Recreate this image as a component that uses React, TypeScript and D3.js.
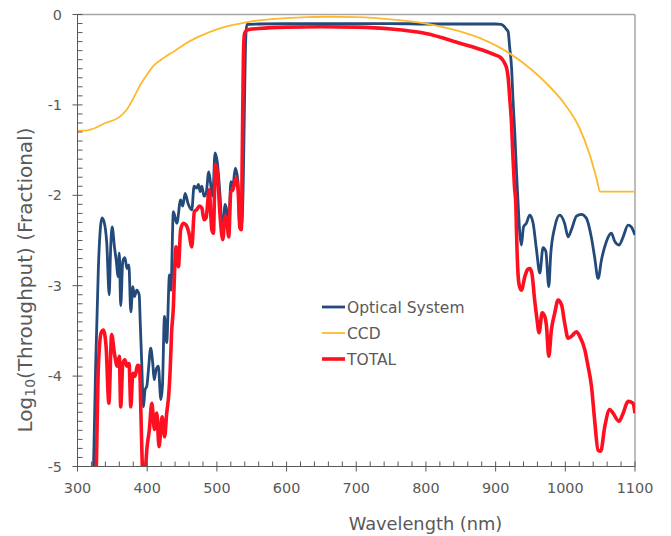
import React from "react";
import * as d3 from "d3";

const xTicks = [300, 400, 500, 600, 700, 800, 900, 1000, 1100];
const yTicks = [0, -1, -2, -3, -4, -5];
const seriesNames = ["Optical System", "CCD", "TOTAL"];

const opticalSystem: [number, number][] = [
  [320, -5.6], [323, -5.0], [326, -3.9], [330, -2.79], [333, -2.35], [335, -2.25], [338, -2.29], [342, -2.53],
  [345.5, -3.1], [347.5, -2.6], [349.7, -2.35], [353, -2.57], [356, -2.75], [358, -2.9], [360, -2.64], [362, -3.22],
  [365, -2.73], [368, -2.69], [371, -2.81], [373.7, -2.77], [376.5, -3.29], [379.4, -3.01], [381.7, -3.12],
  [385, -3.05], [388.5, -3.1], [390, -3.4], [392, -3.82], [394.6, -4.34], [397, -4.15], [399.5, -4.11],
  [401.8, -3.93], [405, -3.69], [408, -3.86], [410, -4.04], [412.8, -3.93], [416, -3.89], [419.6, -4.26],
  [421.9, -4.11], [424.8, -3.34], [428, -3.63], [432, -2.88], [434, -3.05], [437.6, -2.18], [442.5, -2.31],
  [448, -2.05], [451, -2.12], [454.4, -1.98], [459, -2.1], [464, -2.16], [467.3, -1.9], [471, -1.92],
  [473.5, -1.88], [476, -1.96], [478.4, -1.9], [481.6, -2.01], [484.5, -1.98], [488.4, -1.74], [491, -1.87],
  [494, -2.01], [497.4, -1.53], [500.7, -1.64], [504.6, -2.01], [508, -2.42], [511.8, -2.1], [514, -2.16],
  [517, -2.42], [520, -1.85], [522.8, -1.9], [526.5, -1.7], [530, -1.83], [533, -2.35], [536, -2.3],
  [538, -1.8], [540, -0.8], [541.5, -0.25], [543, -0.11], [560, -0.105], [600, -0.1], [650, -0.1],
  [700, -0.1], [750, -0.1], [800, -0.105], [850, -0.105], [900, -0.105], [908, -0.11], [912, -0.13],
  [915, -0.16], [918, -0.19], [920, -0.35], [922.8, -0.58], [925, -0.95], [927.5, -1.31], [930, -1.75],
  [932, -2.05], [934.7, -2.42], [937, -2.55], [940, -2.35], [944, -2.31], [949, -2.22], [953.8, -2.31],
  [958.6, -2.6], [963.4, -2.86], [968, -2.58], [972, -2.62], [976.3, -3.01], [979, -2.66], [984.9, -2.35],
  [992, -2.22], [999, -2.31], [1004, -2.46], [1008.8, -2.38], [1016, -2.23], [1023, -2.21], [1030, -2.25],
  [1037.5, -2.47], [1042, -2.68], [1047, -2.92], [1052, -2.71], [1059, -2.51], [1066, -2.42], [1071, -2.51],
  [1077, -2.55], [1083, -2.46], [1090, -2.33], [1094.8, -2.35], [1100, -2.44],
];

const ccd: [number, number][] = [
  [300, -1.285], [310, -1.285], [320, -1.27], [340, -1.2], [360, -1.135], [370, -1.06], [380, -0.93],
  [390, -0.78], [400, -0.66], [410, -0.56], [420, -0.5], [440, -0.4], [460, -0.3], [480, -0.225],
  [500, -0.165], [520, -0.12], [540, -0.09], [560, -0.065], [580, -0.05], [600, -0.04], [630, -0.03],
  [660, -0.025], [700, -0.03], [750, -0.055], [800, -0.1], [850, -0.19], [880, -0.27], [920, -0.43],
  [950, -0.6], [970, -0.74], [1000, -1.0], [1020, -1.25], [1035, -1.55], [1045, -1.82], [1050, -1.96],
  [1100, -1.96],
];

const total: [number, number][] = [
  [325, -5.6], [327, -5.0], [330, -3.89], [334, -3.52], [337, -3.49], [341, -3.67], [345, -4.3], [349, -3.54],
  [353, -3.75], [357, -3.89], [360, -3.78], [362, -4.34], [365, -3.86], [368, -3.82], [371, -3.89], [374, -3.86],
  [376.5, -4.34], [379.4, -3.97], [382.7, -4.0], [386, -3.88], [389, -3.89], [391, -4.41], [393, -5.0],
  [395, -5.3], [397, -5.1], [399.5, -4.81], [403, -4.6], [406.7, -4.3], [410.4, -4.59], [413.8, -4.41],
  [417, -4.78], [421.4, -4.45], [425, -4.67], [428, -4.41], [431, -4.2], [433, -3.93], [435, -3.52],
  [437.6, -3.23], [439.5, -2.8], [441.5, -2.57], [444.8, -2.79], [448, -2.38], [452, -2.31], [456, -2.33],
  [460, -2.42], [464, -2.57], [467.7, -2.18], [471, -2.16], [475, -2.12], [478.4, -2.14], [481.6, -2.27],
  [484.5, -2.25], [489, -1.94], [492.7, -2.38], [495, -2.42], [497.8, -1.66], [500.7, -1.75], [504.6, -2.23],
  [508.5, -2.49], [511.8, -2.23], [514, -2.25], [517, -2.46], [520, -1.96], [522.8, -1.94], [527.5, -1.81],
  [530.4, -1.94], [533, -2.36], [535, -2.38], [536.5, -1.5], [538, -0.5], [539.5, -0.22], [542, -0.18],
  [546, -0.165], [560, -0.155], [600, -0.14], [650, -0.135], [700, -0.14], [750, -0.16], [800, -0.21],
  [850, -0.32], [880, -0.39], [900, -0.45], [906, -0.47], [910, -0.5], [913, -0.54], [916, -0.6], [918, -0.7],
  [920.4, -0.94], [922.8, -1.2], [925, -1.6], [927, -1.9], [929, -2.1], [930, -2.42], [932, -2.85], [934, -3.0],
  [937, -3.05], [941.9, -2.9], [946, -2.82], [949, -2.81], [952, -2.86], [956, -3.16], [959, -3.35],
  [962.4, -3.52], [966.7, -3.3], [970.5, -3.34], [973, -3.45], [976.3, -3.78], [980, -3.49], [984.9, -3.3],
  [989.6, -3.16], [994.5, -3.21], [999, -3.41], [1004, -3.58], [1008.8, -3.56], [1016, -3.51], [1020.7, -3.56],
  [1028, -3.71], [1032.6, -3.89], [1037.5, -4.11], [1042, -4.48], [1047, -4.82], [1050.8, -4.83],
  [1056.6, -4.56], [1063.7, -4.37], [1068.5, -4.41], [1077, -4.5], [1083, -4.41], [1090, -4.28],
  [1097, -4.3], [1100, -4.41],
];

const W = 671;
const H = 536;
const L = 77.5, R = 635, T = 14.5, B = 466.5;
const FONT = "'DejaVu Sans', Verdana, sans-serif";
const TXT = "#595959";
const AXIS = "#595959";
const BORDER = "#a6a6a6";
const COLORS = ["#24497b", "#fdba2f", "#ff1020"];
const WIDTHS = [2.8, 1.8, 3.6];

export default function App() {
  const x = d3.scaleLinear().domain([300, 1100]).range([L, R]);
  const y = d3.scaleLinear().domain([-5, 0]).range([B, T]);
  const line = d3
    .line<[number, number]>()
    .x((d) => x(d[0]))
    .y((d) => y(d[1]))
    .curve(d3.curveMonotoneX);

  const xMinor = d3.range(300, 1101, 20).filter((v) => v % 100 !== 0);
  const yMinor = d3.range(-50, 1, 1).map((v) => v / 10).filter((v) => Math.abs(v - Math.round(v)) > 1e-6);
  const series = [opticalSystem, ccd, total];
  const legendY = [307, 333, 359];

  return (
    <div style={{ position: "absolute", left: 0, top: 0 }}>
      <svg width={W} height={H} style={{ display: "block", background: "#fff" }}>
        <defs>
          <clipPath id="plotclip">
            <rect x={L} y={T} width={R - L} height={B - T} />
          </clipPath>
        </defs>
        <line x1={L} x2={R} y1={T} y2={T} stroke={BORDER} strokeWidth={1.5} />
        <line x1={R} x2={R} y1={T} y2={B} stroke={BORDER} strokeWidth={1.5} />
        <g clipPath="url(#plotclip)">
          {series.map((s, i) => (
            <path key={i} d={line(s) || ""} fill="none" stroke={COLORS[i]} strokeWidth={WIDTHS[i]} strokeLinejoin="round" />
          ))}
        </g>
        <line x1={L} x2={L} y1={T} y2={B} stroke={AXIS} strokeWidth={1} />
        <line x1={L} x2={R} y1={B} y2={B} stroke={AXIS} strokeWidth={1} />
        {xMinor.map((v) => (
          <line key={"xm" + v} x1={x(v)} x2={x(v)} y1={B - 5} y2={B} stroke={AXIS} strokeWidth={1} />
        ))}
        {xTicks.map((v) => (
          <g key={"x" + v}>
            <line x1={x(v)} x2={x(v)} y1={B - 5} y2={B + 5} stroke={AXIS} strokeWidth={1} />
            <text x={x(v)} y={493} textAnchor="middle" fontFamily={FONT} fontSize={14.4} fill={TXT}>
              {v}
            </text>
          </g>
        ))}
        {yMinor.map((v) => (
          <line key={"ym" + v} x1={L} x2={L + 5} y1={y(v)} y2={y(v)} stroke={AXIS} strokeWidth={1} />
        ))}
        {yTicks.map((v) => (
          <g key={"y" + v}>
            <line x1={L - 5} x2={L + 5} y1={y(v)} y2={y(v)} stroke={AXIS} strokeWidth={1} />
            <text x={62} y={y(v)} dy="0.36em" textAnchor="end" fontFamily={FONT} fontSize={14.4} fill={TXT}>
              {v}
            </text>
          </g>
        ))}
        <text x={425.5} y={530} textAnchor="middle" fontFamily={FONT} fontSize={17.8} fill={TXT}>
          Wavelength (nm)
        </text>
        <text
          transform="translate(32,280) rotate(-90)"
          textAnchor="middle"
          fontFamily={FONT}
          fontSize={20}
          fill={TXT}
        >
          Log<tspan fontSize={14} dy={3}>10</tspan>
          <tspan dy={-3}>(Throughput) (Fractional)</tspan>
        </text>
        {seriesNames.map((n, i) => (
          <g key={n}>
            <line x1={322} x2={345} y1={legendY[i]} y2={legendY[i]} stroke={COLORS[i]} strokeWidth={WIDTHS[i]} />
            <text x={347} y={legendY[i]} dy="0.36em" fontFamily={FONT} fontSize={15.5} fill={TXT}>
              {n}
            </text>
          </g>
        ))}
      </svg>
    </div>
  );
}
